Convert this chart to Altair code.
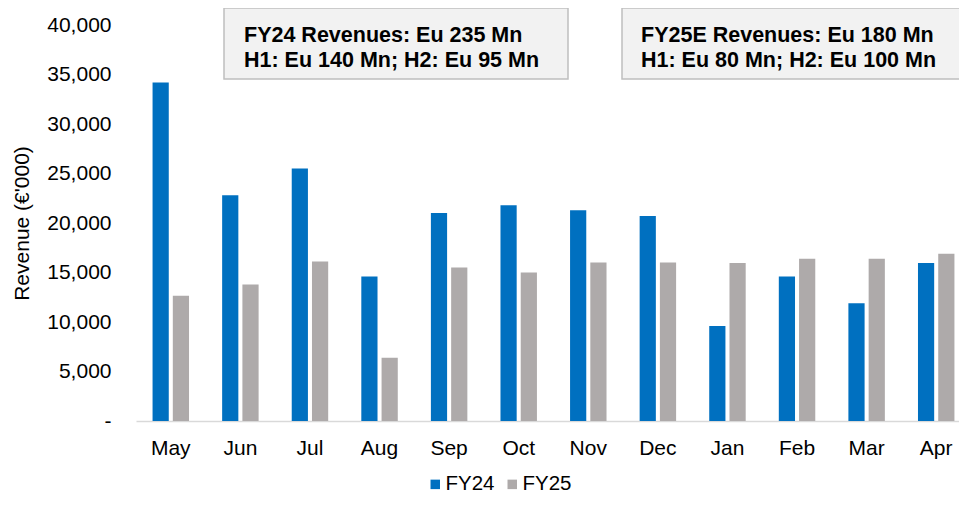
import altair as alt
import pandas as pd

months = ["May", "Jun", "Jul", "Aug", "Sep", "Oct", "Nov", "Dec", "Jan", "Feb", "Mar", "Apr"]
fy24 = [34200, 22800, 25500, 14600, 21000, 21800, 21300, 20700, 9600, 14600, 11900, 15950]
fy25 = [12650, 13800, 16100, 6400, 15500, 15000, 16000, 16000, 15950, 16400, 16400, 16900]
series = ["FY24", "FY25"]
colors = ["#0070C0", "#AEAAAA"]
y_ticks = [0, 5000, 10000, 15000, 20000, 25000, 30000, 35000, 40000]
box1_lines = ["FY24 Revenues: Eu 235 Mn", "H1: Eu 140 Mn; H2: Eu 95 Mn"]
box2_lines = ["FY25E Revenues: Eu 180 Mn", "H1: Eu 80 Mn; H2: Eu 100 Mn"]

FONT = "Liberation Sans"

rows = []
for m, a, b in zip(months, fy24, fy25):
    rows.append({"Month": m, "Series": series[0], "Revenue": a})
    rows.append({"Month": m, "Series": series[1], "Revenue": b})
df = pd.DataFrame(rows)

bars = alt.Chart(df).mark_bar().encode(
    x=alt.X(
        "Month:N",
        sort=months,
        scale=alt.Scale(paddingInner=0.476, paddingOuter=0.238, range=[0, 835]),
        axis=alt.Axis(
            title=None, labelAngle=0, ticks=False, domainColor="#d9d9d9",
            domainWidth=1.5, labelPadding=16, labelFontSize=21, labelColor="#000",
            labelFont=FONT,
        ),
    ),
    xOffset=alt.XOffset("Series:N", sort=series, scale=alt.Scale(paddingInner=0.2, paddingOuter=0)),
    y=alt.Y(
        "Revenue:Q",
        scale=alt.Scale(domain=[0, 40000]),
        axis=alt.Axis(
            values=y_ticks, grid=False, domain=False, ticks=False,
            labelExpr="datum.value == 0 ? '-\u00a0\u00a0' : format(datum.value, ',')",
            title="Revenue (€'000)", titlePadding=14, labelPadding=25,
            labelFontSize=21, labelColor="#000", labelFont=FONT,
            titleFontSize=21, titleFontWeight="normal", titleColor="#000", titleFont=FONT,
        ),
    ),
    color=alt.Color(
        "Series:N",
        scale=alt.Scale(domain=series, range=colors),
        legend=alt.Legend(
            title=None, orient="none", legendX=289, legendY=449, direction="horizontal",
            symbolType="square", symbolSize=90, symbolStrokeWidth=0,
            labelFontSize=20.5, labelFont=FONT, labelColor="#000",
            columnPadding=7, labelOffset=0, padding=0,
        ),
    ),
)


def box(x1, x2, lines, tx):
    rect = alt.Chart(pd.DataFrame({"k": [0]})).mark_rect(
        fill="#f2f2f2", stroke="#bfbfbf", strokeWidth=1.5
    ).encode(x=alt.value(x1), x2=alt.value(x2), y=alt.value(-17), y2=alt.value(54))
    layers = [rect]
    for line, ty in zip(lines, [17.3, 41.5]):
        layers.append(
            alt.Chart(pd.DataFrame({"t": [line]})).mark_text(
                align="left", baseline="alphabetic", fontWeight="bold",
                fontSize=21.5, font=FONT, color="#000",
            ).encode(x=alt.value(tx), y=alt.value(ty), text="t:N")
        )
    return layers


chart = alt.layer(
    bars,
    *box(88, 432, box1_lines, 108),
    *box(486, 830, box2_lines, 505),
).properties(
    width=823,
    height=396,
    autosize=alt.AutoSizeParams(type="none"),
    padding={"left": 128, "top": 17, "right": 0, "bottom": 75},
).configure(font=FONT).configure_view(stroke=None)

chart.save("out.html", embed_options={"renderer": "svg", "actions": False})
